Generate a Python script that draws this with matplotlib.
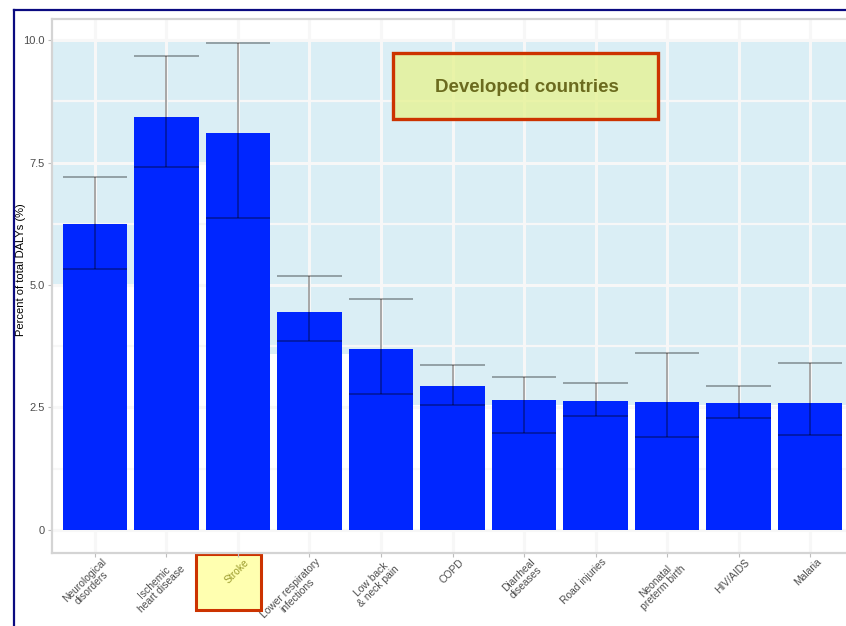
import matplotlib
matplotlib.use("Agg")
import matplotlib.pyplot as plt
from matplotlib.patches import Rectangle
from matplotlib.lines import Line2D
from matplotlib.transforms import ScaledTranslation

plt.rcParams['font.family'] = ['Liberation Sans', 'DejaVu Sans']

# leading causes of DALYs, developed countries
causes = ["Neurological\ndisorders", "Ischemic\nheart disease", "Stroke",
          "Lower respiratory\ninfections", "Low back\n& neck pain", "COPD",
          "Diarrheal\ndiseases", "Road injuries", "Neonatal\npreterm birth",
          "HIV/AIDS", "Malaria"]
pct = [6.24, 8.42, 8.10, 4.45, 3.69, 2.94, 2.65, 2.63, 2.61, 2.59, 2.59]
pct_lo = [5.33, 7.41, 6.37, 3.86, 2.78, 2.56, 1.97, 2.33, 1.90, 2.29, 1.94]
pct_hi = [7.20, 9.67, 9.94, 5.18, 4.71, 3.37, 3.12, 3.01, 3.61, 2.93, 3.40]
yticks = [0, 2.5, 5.0, 7.5, 10.0]
ytick_labels = ["0", "2.5", "5.0", "7.5", "10.0"]

# light blue backdrop behind the bars (stepped lower edge)
haze_x = [-0.6, 1.45, 1.55, 2.45, 4.45, 10.6]
haze_floor = [5.0, 7.5, 5.0, 3.6, 2.55, 2.55]

W, H = 846, 626
fig = plt.figure(figsize=(W / 100, H / 100), dpi=100)
ax = fig.add_axes([52 / W, 73 / H, (853 - 52) / W, (607 - 73) / H])
ax.set_xlim(-0.6, 10.6)
ax.set_ylim(-0.47, 10.43)

x = list(range(len(causes)))

ax.fill_between(haze_x, haze_floor, 10.0, step='post', color='#daeef5',
                lw=0, zorder=0)

ax.set_yticks(yticks)
ax.set_yticklabels(ytick_labels)
ax.set_yticks([1.25, 3.75, 6.25, 8.75], minor=True)
ax.set_xticks(x)
ax.set_xticklabels(causes, rotation=45, ha='right', va='top',
                   rotation_mode='anchor', multialignment='center',
                   linespacing=1.0)
ax.grid(True, which='major', color='#f7f7f7', lw=2.2, zorder=0.5)
ax.grid(True, which='minor', axis='y', color='#f7f7f7', lw=1.6, zorder=0.5)
ax.set_axisbelow(True)

ax.bar(x, pct, width=0.9, color='#0026ff', zorder=2)

# error bars: whiskers + caps as wide as the bars
err_c = (0, 0, 0, 0.38)
ax.vlines(x, pct_lo, pct_hi, color=err_c, lw=1.2, zorder=3)
ax.hlines(pct_lo, [i - 0.45 for i in x], [i + 0.45 for i in x], color=err_c,
          lw=1.2, zorder=3)
ax.hlines(pct_hi, [i - 0.45 for i in x], [i + 0.45 for i in x], color=err_c,
          lw=1.2, zorder=3)

for side in ['left', 'bottom', 'top', 'right']:
    ax.spines[side].set_color('#d4d4d4')
    ax.spines[side].set_linewidth(1.6)
ax.tick_params(axis='both', which='major', color='#bdbdbd', length=3,
               width=0.8, labelcolor='#4d4d4d', pad=2)
ax.tick_params(axis='y', labelsize=8)
ax.tick_params(axis='x', labelsize=7.4)
ax.tick_params(axis='y', which='minor', length=0)
ax.set_ylabel("Percent of total DALYs (%)", fontsize=8)
ax.yaxis.set_label_coords(-0.033, 0.53)

# nudge the slanted category labels a little to the right
nudge = ScaledTranslation(6 / 100, 3 / 100, fig.dpi_scale_trans)
for lab in ax.get_xticklabels():
    lab.set_transform(lab.get_transform() + nudge)

# highlighted category
ax.get_xticklabels()[2].set_color('#9a9a2c')
fig.patches.append(Rectangle((196 / W, (H - 610) / H), 65 / W, 56 / H,
                             transform=fig.transFigure, facecolor='#ffffb0',
                             edgecolor='#cc3300', lw=2.2, zorder=-1))

# title box
ax.add_artist(Rectangle((393 / W, (H - 119) / H), 265 / W, 66 / H,
                        transform=fig.transFigure, facecolor=(0.90, 0.95, 0.58, 0.8),
                        edgecolor='#cc3300', lw=2.4, zorder=5, clip_on=False))
fig.text(527 / W, (H - 87) / H, "Developed countries", fontsize=13.5,
         fontweight='bold', color='#6b6b1e', ha='center', va='center', zorder=6)

# slide frame
fig.add_artist(Line2D([13.5 / W, 13.5 / W], [0, (H - 10) / H], color='#0a0a80',
                      lw=1.6, transform=fig.transFigure))
fig.add_artist(Line2D([13.5 / W, 1], [(H - 10) / H, (H - 10) / H], color='#0a0a80',
                      lw=1.6, transform=fig.transFigure))

fig.savefig('out.png', dpi=100)
